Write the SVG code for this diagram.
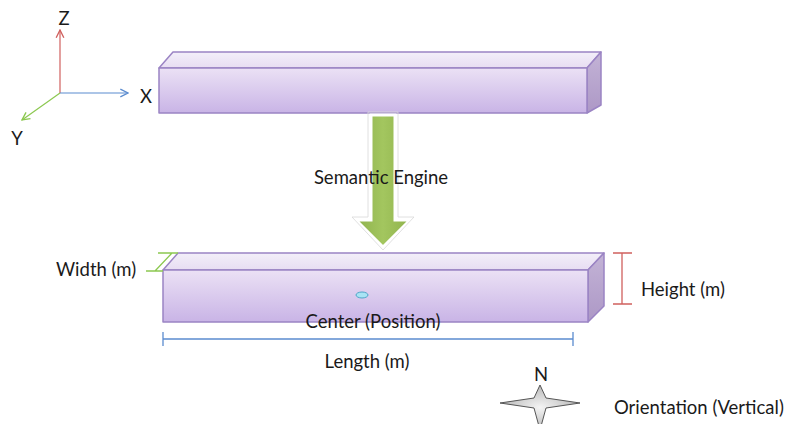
<svg xmlns="http://www.w3.org/2000/svg" width="785" height="424" viewBox="0 0 785 424">
  <style>
    text { font-family: Lato, "Open Sans", "Liberation Sans", sans-serif; font-size: 18.5px; fill: #1a1a1a; }
    .edge { stroke: #9b84c4; stroke-width: 1.5; stroke-linejoin: round; }
  </style>
  <defs>
    <linearGradient id="front" x1="0" y1="0" x2="0" y2="1">
      <stop offset="0" stop-color="#ebe1f5"/>
      <stop offset="1" stop-color="#c9b4e6"/>
    </linearGradient>
    <linearGradient id="topface" x1="0" y1="0" x2="0" y2="1">
      <stop offset="0" stop-color="#f3eff9"/>
      <stop offset="1" stop-color="#e7ddf2"/>
    </linearGradient>
    <linearGradient id="side" x1="0" y1="0" x2="0" y2="1">
      <stop offset="0" stop-color="#c3b3d6"/>
      <stop offset="1" stop-color="#ad98c6"/>
    </linearGradient>
    <linearGradient id="arrowFill" x1="0" y1="0" x2="1" y2="0">
      <stop offset="0" stop-color="#8fb24c"/>
      <stop offset="0.5" stop-color="#a3c65f"/>
      <stop offset="1" stop-color="#8fb24c"/>
    </linearGradient>
    <radialGradient id="star" cx="0.5" cy="0.5" r="0.5">
      <stop offset="0" stop-color="#f4f4f4"/>
      <stop offset="1" stop-color="#b8b8b8"/>
    </radialGradient>
    <marker id="headRed" viewBox="0 0 10 10" refX="9" refY="5" markerWidth="8" markerHeight="8" orient="auto">
      <path d="M1,1 L9,5 L1,9" fill="none" stroke="#d0605e" stroke-width="1.4"/>
    </marker>
    <marker id="headBlue" viewBox="0 0 10 10" refX="9" refY="5" markerWidth="8" markerHeight="8" orient="auto">
      <path d="M1,1 L9,5 L1,9" fill="none" stroke="#5b8ccf" stroke-width="1.4"/>
    </marker>
    <marker id="headGreen" viewBox="0 0 10 10" refX="9" refY="5" markerWidth="8" markerHeight="8" orient="auto">
      <path d="M1,1 L9,5 L1,9" fill="none" stroke="#8cc850" stroke-width="1.4"/>
    </marker>
  </defs>

  <!-- coordinate axes -->
  <g id="axes">
    <line x1="60" y1="93" x2="60" y2="30" stroke="#d0605e" stroke-width="1.2" marker-end="url(#headRed)"/>
    <line x1="60" y1="93" x2="128" y2="93" stroke="#5b8ccf" stroke-width="1.2" marker-end="url(#headBlue)"/>
    <line x1="60" y1="93" x2="22" y2="120" stroke="#8cc850" stroke-width="1.2" marker-end="url(#headGreen)"/>
    <text x="64" y="25" text-anchor="middle">Z</text>
    <text x="146" y="103" text-anchor="middle">X</text>
    <text x="17" y="145" text-anchor="middle">Y</text>
  </g>

  <!-- upper beam -->
  <g id="beam-top">
    <polygon class="edge" points="159,68 173,52 601,52 587,68" fill="url(#topface)"/>
    <polygon class="edge" points="587,68 601,52 601,105 587,113" fill="url(#side)"/>
    <rect class="edge" x="159" y="68" width="428" height="45" fill="url(#front)"/>
  </g>

  <!-- transformation arrow -->
  <g id="semantic-engine">
    <polygon points="371,115 395,115 395,220 410,220 383,247 356,220 371,220" fill="url(#arrowFill)" stroke="#ffffff" stroke-width="3" stroke-linejoin="miter"/>
    <polygon points="368,112 398,112 398,217 414,217 383,250 352,217 368,217" fill="none" stroke="#d8d8d8" stroke-width="0.8"/>
    <text x="381" y="184" text-anchor="middle">Semantic Engine</text>
  </g>

  <!-- lower beam -->
  <g id="beam-bottom">
    <polygon class="edge" points="163,270 178,253 604,253 588,270" fill="url(#topface)"/>
    <polygon class="edge" points="588,270 604,253 604,306 588,322" fill="url(#side)"/>
    <rect class="edge" x="163" y="270" width="425" height="52" fill="url(#front)"/>
    <ellipse cx="362" cy="295" rx="6" ry="3" fill="#a8e4f4" stroke="#4ea6c8" stroke-width="1"/>
    <text x="373" y="328" text-anchor="middle">Center (Position)</text>
  </g>

  <!-- dimension markers -->
  <g id="width">
    <path d="M146,271 H163 M155,271 L172,253 M158,253 H178" fill="none" stroke="#8cc850" stroke-width="1.3"/>
    <text x="56" y="276">Width (m)</text>
  </g>
  <g id="height">
    <path d="M613,253 H632 M622,253 V304 M613,304 H632" fill="none" stroke="#d0605e" stroke-width="1.3"/>
    <text x="641" y="296">Height (m)</text>
  </g>
  <g id="length">
    <path d="M163,332 V346 M163,339 H573 M573,332 V346" fill="none" stroke="#5b8ccf" stroke-width="1.3"/>
    <text x="367" y="368" text-anchor="middle">Length (m)</text>
  </g>

  <!-- orientation compass -->
  <g id="orientation">
    <path d="M540,385 L546,398 L580,403 L546,408 L540,430 L534,408 L500,403 L534,398 Z" fill="url(#star)" stroke="#555" stroke-width="1"/>
    <text x="541" y="381" text-anchor="middle">N</text>
    <text x="614" y="414">Orientation (Vertical)</text>
  </g>
</svg>
